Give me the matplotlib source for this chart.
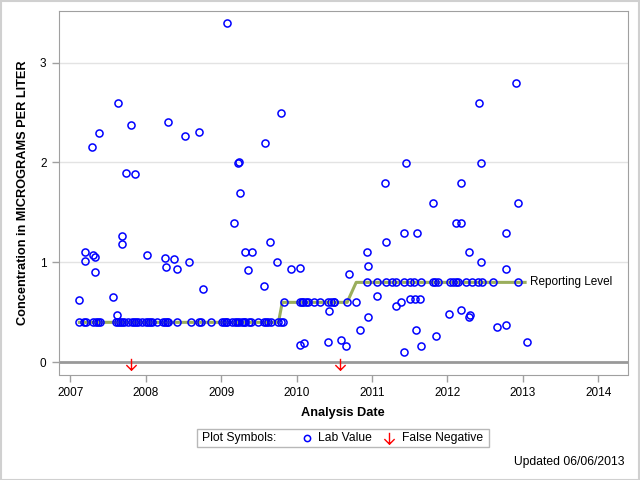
import numpy as np
import matplotlib
matplotlib.use("Agg")
import matplotlib.pyplot as plt
from matplotlib.path import Path
from matplotlib.lines import Line2D
from matplotlib.patches import Rectangle

plt.rcParams['font.family'] = ['Liberation Sans', 'DejaVu Sans']

# lab values sitting on the reporting level
lvl04_dates = [2007.12, 2007.18, 2007.21, 2007.30, 2007.34, 2007.37, 2007.39, 2007.61, 2007.63,
               2007.66, 2007.69, 2007.71, 2007.76, 2007.82, 2007.84, 2007.87, 2007.90, 2007.95,
               2008.00, 2008.03, 2008.06, 2008.08, 2008.15, 2008.23, 2008.26, 2008.28, 2008.30,
               2008.42, 2008.60, 2008.71, 2008.73, 2008.87, 2009.01, 2009.04, 2009.06, 2009.08,
               2009.15, 2009.19, 2009.21, 2009.24, 2009.27, 2009.30, 2009.32, 2009.37, 2009.40,
               2009.49, 2009.57, 2009.60, 2009.62, 2009.66, 2009.76, 2009.79, 2009.82]
lvl06_dates = [2009.83, 2010.04, 2010.07, 2010.09, 2010.12, 2010.15, 2010.23, 2010.31, 2010.41,
               2010.46, 2010.49, 2010.50, 2010.67, 2010.79]
lvl08_dates = [2010.94, 2011.07, 2011.19, 2011.27, 2011.32, 2011.43, 2011.51, 2011.56, 2011.65,
               2011.81, 2011.84, 2011.87, 2012.04, 2012.08, 2012.12, 2012.14, 2012.25, 2012.33,
               2012.40, 2012.46, 2012.61, 2012.93]

# other lab values
other_dates = [2009.08, 2012.91, 2012.42, 2007.63, 2007.38, 2007.29, 2008.30, 2007.80, 2008.71,
               2008.52, 2009.79, 2009.58, 2009.22, 2009.23, 2009.25, 2009.17, 2009.65, 2007.74,
               2007.86, 2007.19, 2007.20, 2007.30, 2007.33, 2007.33, 2007.69, 2007.69, 2008.02,
               2008.25, 2008.27, 2008.38, 2008.42, 2008.58, 2009.32, 2009.41, 2009.35, 2009.74,
               2009.92, 2010.05,
               2011.45, 2012.45, 2011.17, 2012.18, 2011.81, 2012.93, 2012.11, 2012.18, 2011.43,
               2011.60, 2012.78, 2011.19, 2010.94, 2012.29, 2010.95, 2012.45, 2012.78, 2010.70,
               2007.12, 2007.56, 2008.76, 2009.57, 2007.62, 2011.07, 2010.43, 2010.95, 2011.32,
               2011.39, 2011.50, 2011.57, 2011.64, 2010.84, 2012.02, 2012.18, 2012.30, 2012.29,
               2012.66, 2012.78, 2013.06, 2011.58, 2011.85, 2011.65, 2011.43, 2010.05, 2010.10,
               2010.42, 2010.59, 2010.66]
other_values = [3.40, 2.80, 2.60, 2.60, 2.29, 2.15, 2.41, 2.38, 2.30,
                2.26, 2.50, 2.19, 1.99, 2.00, 1.69, 1.39, 1.20, 1.89,
                1.88, 1.10, 1.01, 1.07, 1.05, 0.90, 1.26, 1.18, 1.07,
                1.04, 0.95, 1.03, 0.93, 1.00, 1.10, 1.10, 0.92, 1.00,
                0.93, 0.94,
                1.99, 1.99, 1.79, 1.79, 1.59, 1.59, 1.39, 1.39, 1.29,
                1.29, 1.29, 1.20, 1.10, 1.10, 0.96, 1.00, 0.93, 0.88,
                0.62, 0.65, 0.73, 0.76, 0.47, 0.66, 0.51, 0.45, 0.56,
                0.60, 0.63, 0.63, 0.63, 0.32, 0.48, 0.52, 0.47, 0.45,
                0.35, 0.37, 0.20, 0.32, 0.26, 0.16, 0.10, 0.17, 0.19,
                0.20, 0.22, 0.16]

lab_dates = lvl04_dates + lvl06_dates + lvl08_dates + other_dates
lab_values = [0.4] * len(lvl04_dates) + [0.6] * len(lvl06_dates) + [0.8] * len(lvl08_dates) + other_values

# reporting level
rl_dates = [2007.12, 2009.76, 2009.81, 2010.67, 2010.79, 2013.03]
rl_values = [0.4, 0.4, 0.6, 0.6, 0.8, 0.8]

# false negatives
fn_dates = [2007.80, 2010.58]
fn_values = [0.0, 0.0]

years = [2007, 2008, 2009, 2010, 2011, 2012, 2013, 2014]

arrow = Path([(0, 0.5), (0, -0.5), (-0.45, -0.05), (0, -0.5), (0.45, -0.05)],
             [Path.MOVETO, Path.LINETO, Path.MOVETO, Path.LINETO, Path.LINETO])

gray = '#a0a0a0'
fig = plt.figure(figsize=(6.4, 4.8), dpi=100)
ax = fig.add_axes([59 / 640, 1 - 374.5 / 480, (627.7 - 59) / 640, (374.5 - 11) / 480])

ax.axhline(0, color='#999999', lw=2, zorder=1)
for v in [1, 2, 3]:
    ax.axhline(v, color='#e3e3e3', lw=1, zorder=0)
ax.plot(rl_dates, rl_values, color='#9aae5c', lw=2.2, zorder=2)
ax.text(rl_dates[-1] + 0.06, rl_values[-1], 'Reporting Level', fontsize=8.5, va='center', ha='left')
ax.plot(lab_dates, lab_values, ls='none', marker='o', ms=5.1, mfc='none', mec='blue', mew=1.1, zorder=3)
ax.plot(fn_dates, np.array(fn_values) - 0.013, ls='none', marker=arrow, ms=8.2, mfc='none',
        mec='red', mew=1.0, zorder=4)

ax.set_xlim(2006.85, 2014.39)
ax.set_ylim(-0.122, 3.516)
ax.set_xticks(years)
ax.set_xticklabels([str(y) for y in years])
ax.set_yticks([0, 1, 2, 3])
for s in ax.spines.values():
    s.set_color(gray)
ax.tick_params(colors=gray, labelcolor='black', labelsize=8.5, length=5, width=1, pad=4)
ax.set_xlabel('Analysis Date', fontsize=9.2, fontweight='bold', labelpad=6)
ax.set_ylabel('Concentration in MICROGRAMS PER LITER', fontsize=9.2, fontweight='bold', labelpad=8)

# legend box
fig.add_artist(Rectangle((197.3 / 640, 1 - 447 / 480), (489.3 - 197.3) / 640, (447 - 429.3) / 480,
                         transform=fig.transFigure, fill=False, ec='#b8b8b8', lw=1))
ly = 1 - 438.3 / 480
fig.text(202.3 / 640, ly, 'Plot Symbols:', fontsize=8.7, va='center', ha='left')
fig.add_artist(Line2D([307 / 640], [ly], transform=fig.transFigure, ls='none', marker='o', ms=4.5,
                      mfc='none', mec='blue', mew=1.1))
fig.text(318.3 / 640, ly, 'Lab Value', fontsize=8.7, va='center', ha='left')
fig.add_artist(Line2D([389 / 640], [ly], transform=fig.transFigure, ls='none', marker=arrow, ms=8.2,
                      mfc='none', mec='red', mew=1.0))
fig.text(402.3 / 640, ly, 'False Negative', fontsize=8.7, va='center', ha='left')

fig.text(625 / 640, 1 - 462 / 480, 'Updated 06/06/2013', fontsize=8.7, va='center', ha='right')

# outer border
fig.add_artist(Rectangle((0.001, 0.001), 0.997, 0.997, transform=fig.transFigure, fill=False,
                         ec='#d0d0d0', lw=1.5))

fig.savefig('out.png', dpi=100)
